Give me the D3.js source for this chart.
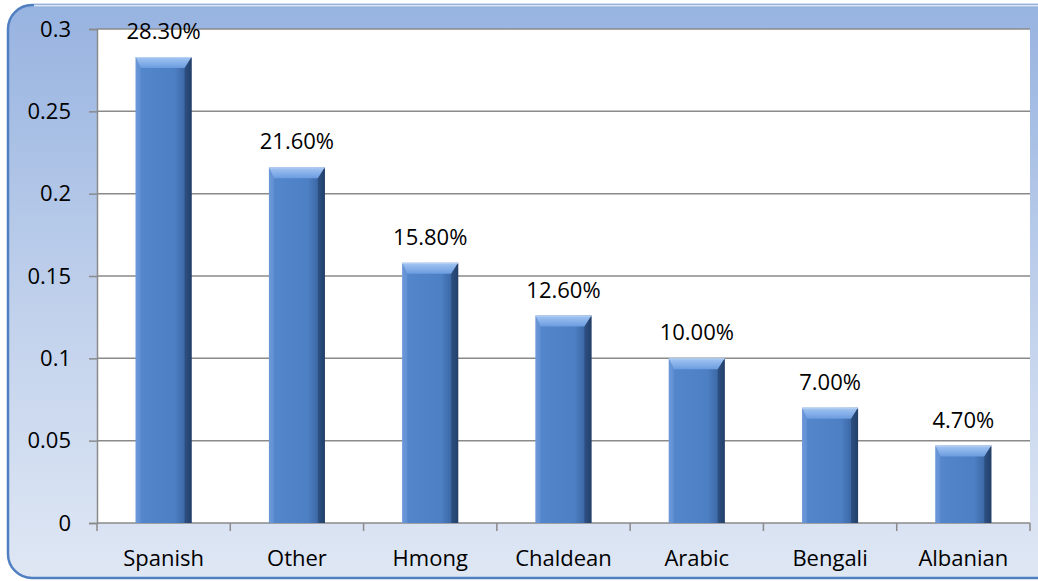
<!DOCTYPE html>
<html>
<head>
<meta charset="utf-8">
<script src="https://cdn.jsdelivr.net/npm/d3@7"></script>
<style>
  html, body { margin: 0; padding: 0; background: #ffffff; }
  svg { display: block; }
  text { font-family: "Open Sans", sans-serif; fill: #000; }
</style>
</head>
<body>
<svg id="chart" width="1038" height="581"></svg>
<script>
const categories = ["Spanish", "Other", "Hmong", "Chaldean", "Arabic", "Bengali", "Albanian"];
const values = [0.283, 0.216, 0.158, 0.126, 0.100, 0.070, 0.047];
const valueLabels = ["28.30%", "21.60%", "15.80%", "12.60%", "10.00%", "7.00%", "4.70%"];
const yTicks = [0, 0.05, 0.1, 0.15, 0.2, 0.25, 0.3];
const yTickLabels = ["0", "0.05", "0.1", "0.15", "0.2", "0.25", "0.3"];

const W = 1038, H = 581;
const plot = { left: 97, right: 1030, top: 29, bottom: 523 };
const FONT = "Open Sans";
const FS = 22;

const svg = d3.select("#chart");
const defs = svg.append("defs");

const fg = defs.append("linearGradient").attr("id", "frameGrad")
  .attr("x1", 0).attr("y1", 0).attr("x2", 0).attr("y2", 1);
fg.append("stop").attr("offset", "0%").attr("stop-color", "#97b3e0");
fg.append("stop").attr("offset", "55%").attr("stop-color", "#c2d2ec");
fg.append("stop").attr("offset", "100%").attr("stop-color", "#dfe7f4");

const bg = defs.append("linearGradient").attr("id", "barGrad")
  .attr("x1", 0).attr("y1", 0).attr("x2", 1).attr("y2", 0);
bg.append("stop").attr("offset", "0%").attr("stop-color", "#6f9ad6");
bg.append("stop").attr("offset", "8%").attr("stop-color", "#5486cc");
bg.append("stop").attr("offset", "70%").attr("stop-color", "#4c7fc3");
bg.append("stop").attr("offset", "86%").attr("stop-color", "#3e6aa8");
bg.append("stop").attr("offset", "100%").attr("stop-color", "#243f68");

const tg = defs.append("linearGradient").attr("id", "topGrad")
  .attr("x1", 0).attr("y1", 0).attr("x2", 0).attr("y2", 1);
tg.append("stop").attr("offset", "0%").attr("stop-color", "#a4c6f2");
tg.append("stop").attr("offset", "100%").attr("stop-color", "#6b9ce0");

svg.append("rect")
  .attr("x", 8).attr("y", 5).attr("width", W + 30).attr("height", 573)
  .attr("rx", 24).attr("ry", 24)
  .attr("fill", "url(#frameGrad)")
  .attr("stroke", "#4f7fc0").attr("stroke-width", 2.5);
svg.append("line").attr("x1", 34).attr("x2", W).attr("y1", 5.5).attr("y2", 5.5)
  .attr("stroke", "#dde6f5").attr("stroke-width", 2);

svg.append("rect")
  .attr("x", plot.left).attr("y", plot.top)
  .attr("width", plot.right - plot.left).attr("height", plot.bottom - plot.top)
  .attr("fill", "#ffffff");

const x = d3.scaleBand().domain(categories).range([plot.left, plot.right]).paddingInner(0.58).paddingOuter(0.29);
const y = d3.scaleLinear().domain([0, 0.3]).range([plot.bottom, plot.top]);

svg.append("g").selectAll("line").data(yTicks.filter(d => d > 0)).join("line")
  .attr("x1", plot.left).attr("x2", plot.right)
  .attr("y1", d => y(d)).attr("y2", d => y(d))
  .attr("stroke", "#8a8a8a").attr("stroke-width", 1.5);

const yAxis = d3.axisLeft(y).tickValues(yTicks).tickFormat((d, i) => yTickLabels[i]).tickSize(8).tickPadding(18);
const gy = svg.append("g").attr("transform", `translate(${plot.left},0)`).call(yAxis);
gy.select(".domain").attr("stroke", "#8a8a8a").attr("stroke-width", 1.5);
gy.selectAll(".tick line").attr("stroke", "#8a8a8a").attr("stroke-width", 1.5);
gy.selectAll(".tick text").attr("font-size", FS).attr("font-family", FONT).attr("fill", "#000");

const boundaries = d3.range(categories.length + 1).map(i => plot.left + i * (plot.right - plot.left) / categories.length);
const gx = svg.append("g");
gx.append("line").attr("x1", plot.left).attr("x2", plot.right)
  .attr("y1", plot.bottom).attr("y2", plot.bottom)
  .attr("stroke", "#8a8a8a").attr("stroke-width", 1.5);
gx.selectAll("line.t").data(boundaries).join("line").attr("class", "t")
  .attr("x1", d => d).attr("x2", d => d)
  .attr("y1", plot.bottom).attr("y2", plot.bottom + 8)
  .attr("stroke", "#8a8a8a").attr("stroke-width", 1.5);
gx.selectAll("text").data(categories).join("text")
  .attr("x", d => x(d) + x.bandwidth() / 2)
  .attr("y", 566)
  .attr("text-anchor", "middle")
  .attr("font-size", FS)
  .text(d => d);

const data = categories.map((c, i) => ({ c, v: values[i], label: valueLabels[i] }));
const bars = svg.append("g").selectAll("g").data(data).join("g");
const bw = x.bandwidth();
const bev = 11, side = 5;

bars.append("rect")
  .attr("x", d => x(d.c)).attr("y", d => y(d.v))
  .attr("width", bw).attr("height", d => y(0) - y(d.v))
  .attr("fill", "url(#barGrad)");

bars.append("path")
  .attr("d", d => {
    const x0 = x(d.c), x1 = x0 + bw, t = y(d.v);
    return `M${x0},${t} L${x1},${t} L${x1 - side - 2},${t + bev} L${x0 + side},${t + bev} Z`;
  })
  .attr("fill", "url(#topGrad)");
bars.append("path")
  .attr("d", d => {
    const x0 = x(d.c), t = y(d.v), b = y(0);
    return `M${x0},${t} L${x0 + side},${t + bev} L${x0 + side},${b} L${x0},${b} Z`;
  })
  .attr("fill", "#6a98d8").attr("opacity", 0.6);
bars.append("path")
  .attr("d", d => {
    const x1 = x(d.c) + bw, t = y(d.v), b = y(0);
    return `M${x1},${t} L${x1 - side - 2},${t + bev} L${x1 - side - 2},${b} L${x1},${b} Z`;
  })
  .attr("fill", "#23406a").attr("opacity", 0.55);
bars.append("line")
  .attr("x1", d => x(d.c)).attr("x2", d => x(d.c) + bw)
  .attr("y1", d => y(d.v) + 0.5).attr("y2", d => y(d.v) + 0.5)
  .attr("stroke", "#b8d0f2").attr("stroke-width", 1);

bars.append("text")
  .attr("x", d => x(d.c) + bw / 2)
  .attr("y", d => y(d.v) - 18)
  .attr("text-anchor", "middle")
  .attr("font-size", FS)
  .text(d => d.label);
</script>
</body>
</html>
